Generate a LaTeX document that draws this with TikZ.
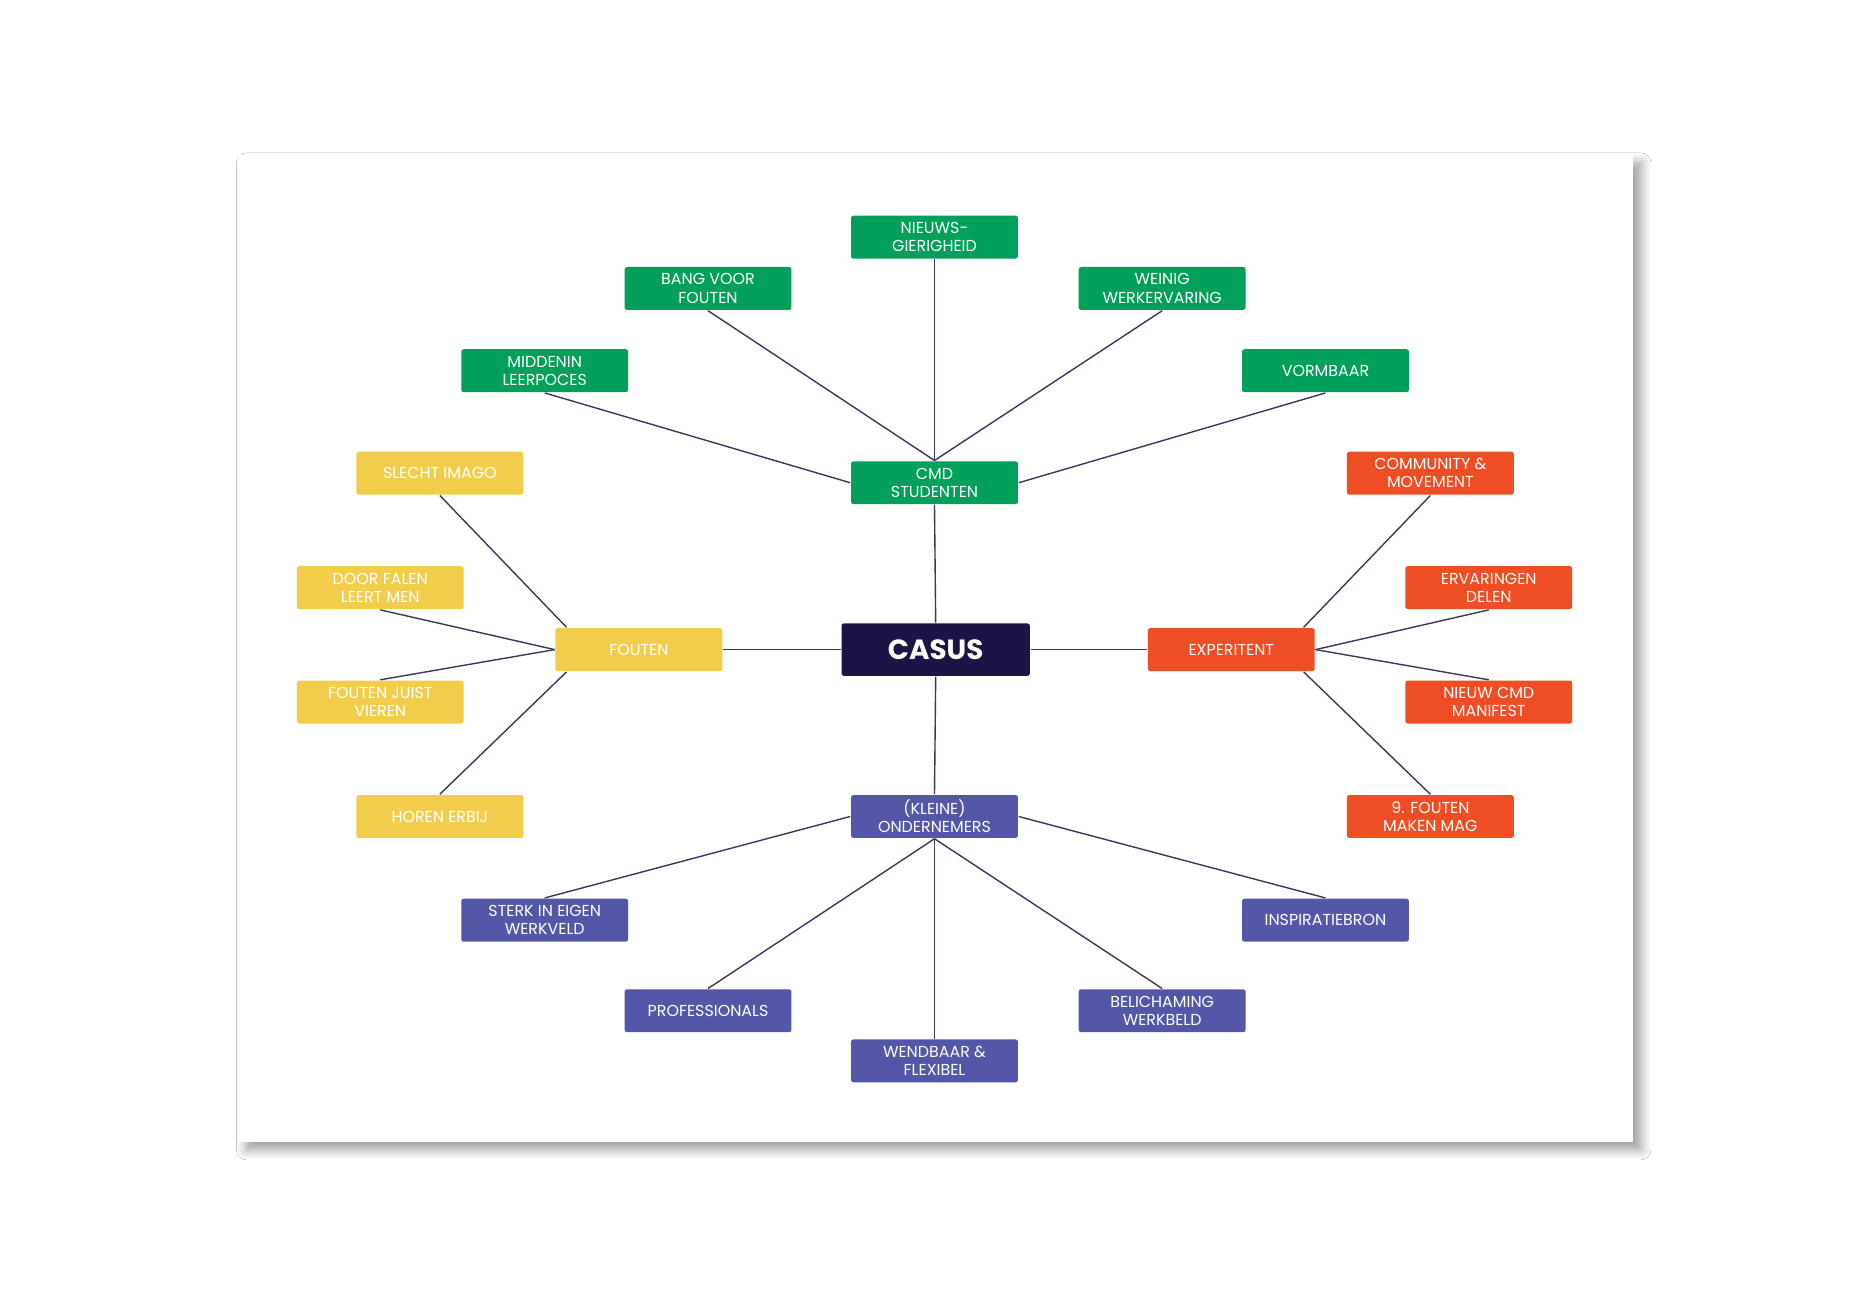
\documentclass[tikz,border=0pt]{standalone}
\usepackage{fontspec}
\setmainfont{Poppins}
\usetikzlibrary{calc,shadows.blur}
\definecolor{gr}{HTML}{00A05A}
\definecolor{ye}{HTML}{F2CD4B}
\definecolor{orr}{HTML}{EF4E24}
\definecolor{pu}{HTML}{5457A8}
\definecolor{nv}{HTML}{1B1444}
\definecolor{ln}{HTML}{3A3660}
\begin{document}
\begin{tikzpicture}[x=0.3pt,y=-0.3pt,
 box/.style={minimum width=42pt,minimum height=10.8pt,inner sep=0pt,rounded corners=0.6pt,text=white,font=\fontsize{4}{4.6}\selectfont,align=center},
 g/.style={box,fill=gr},y1/.style={box,fill=ye},o/.style={box,fill=orr},p/.style={box,fill=pu},
 con/.style={draw=ln,line width=0.35pt}]
\useasboundingbox (0,0) rectangle (1568,1090);
\fill[white] (0,0) rectangle (1568,1090);
\fill[black!30,blur shadow={shadow blur steps=10,shadow xshift=2pt,shadow yshift=-2pt,shadow blur radius=2.5pt}] (200,130) rectangle (1370,958);
\fill[white] (200,130) rectangle (1370,958);
% nodes
\node[box,fill=nv,minimum width=47.4pt,minimum height=13.2pt,font=\bfseries\fontsize{7}{8}\selectfont] (c) at (785,545) {CASUS};
\node[g] (cmd) at (784,405) {CMD\\STUDENTEN};
\node[g] (n1) at (784,199) {NIEUWS-\\GIERIGHEID};
\node[g] (n2) at (594,242) {BANG VOOR\\FOUTEN};
\node[g] (n3) at (975,242) {WEINIG\\WERKERVARING};
\node[g] (n4) at (457,311) {MIDDENIN\\LEERPOCES};
\node[g] (n5) at (1112,311) {VORMBAAR};
\node[y1] (f) at (536,545) {FOUTEN};
\node[y1] (f1) at (369,397) {SLECHT IMAGO};
\node[y1] (f2) at (319,493) {DOOR FALEN\\LEERT MEN};
\node[y1] (f3) at (319,589) {FOUTEN JUIST\\VIEREN};
\node[y1] (f4) at (369,685) {HOREN ERBIJ};
\node[o] (e) at (1033,545) {EXPERITENT};
\node[o] (e1) at (1200,397) {COMMUNITY \&\\MOVEMENT};
\node[o] (e2) at (1249,493) {ERVARINGEN\\DELEN};
\node[o] (e3) at (1249,589) {NIEUW CMD\\MANIFEST};
\node[o] (e4) at (1200,685) {9. FOUTEN\\MAKEN MAG};
\node[p] (k) at (784,685) {(KLEINE)\\ONDERNEMERS};
\node[p] (k1) at (457,772) {STERK IN EIGEN\\WERKVELD};
\node[p] (k2) at (1112,772) {INSPIRATIEBRON};
\node[p] (k3) at (594,848) {PROFESSIONALS};
\node[p] (k4) at (975,848) {BELICHAMING\\WERKBELD};
\node[p] (k5) at (784,890) {WENDBAAR \&\\FLEXIBEL};
% connectors
\begin{scope}[on background layer/.style={}]
\draw[con] (c.north) -- (cmd.south);
\draw[con] (c.south) -- (k.north);
\draw[con] (c.west) -- (f.east);
\draw[con] (c.east) -- (e.west);
\draw[con] (n1.south) -- (cmd.north);
\draw[con] (n2.south) -- (cmd.north);
\draw[con] (n3.south) -- (cmd.north);
\draw[con] (n4.south) -- (cmd.west);
\draw[con] (n5.south) -- (cmd.east);
\draw[con] (f1.south) -- ($(f.north west)+(10,0)$);
\draw[con] (f2.south) -- (f.west);
\draw[con] (f3.north) -- (f.west);
\draw[con] (f4.north) -- ($(f.south west)+(10,0)$);
\draw[con] (e1.south) -- ($(e.north east)+(-10,0)$);
\draw[con] (e2.south) -- (e.east);
\draw[con] (e3.north) -- (e.east);
\draw[con] (e4.north) -- ($(e.south east)+(-10,0)$);
\draw[con] (k.west) -- (k1.north);
\draw[con] (k.east) -- (k2.north);
\draw[con] (k.south) -- (k3.north);
\draw[con] (k.south) -- (k4.north);
\draw[con] (k.south) -- (k5.north);
\end{scope}
\end{tikzpicture}
\end{document}
